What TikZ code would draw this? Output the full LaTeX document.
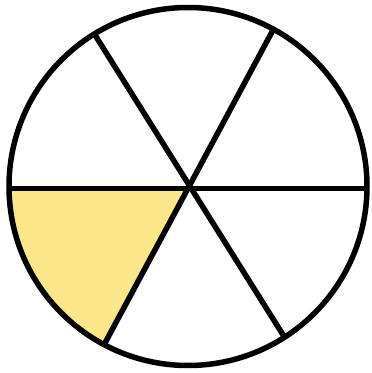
\documentclass[tikz,border=0pt]{standalone}
\usetikzlibrary{calc}
\definecolor{sectorfill}{RGB}{250,231,138}
\begin{document}
\begin{tikzpicture}[x=1pt,y=1pt,
  edge/.style={line width=5.5pt,black},
  shade/.style={fill=sectorfill}]
\useasboundingbox (0,0) rectangle (372,373);
\coordinate (c) at (188,186.5);
\coordinate (p0) at (367,184.5);
\coordinate (p180) at (9,184.5);
\coordinate (p60) at (273,343);
\coordinate (p240) at (105,30);
\coordinate (p120) at (95,338);
\coordinate (p300) at (285,35);
\fill[shade] (188,184.5) -- (p180) arc[start angle=180.6,end angle=242.1,radius=179] -- cycle;
\draw[edge] (c) circle[radius=179];
\draw[edge] (p180) -- (p0);
\draw[edge] (p60) -- (p240);
\draw[edge] (p120) -- (p300);
\end{tikzpicture}
\end{document}
